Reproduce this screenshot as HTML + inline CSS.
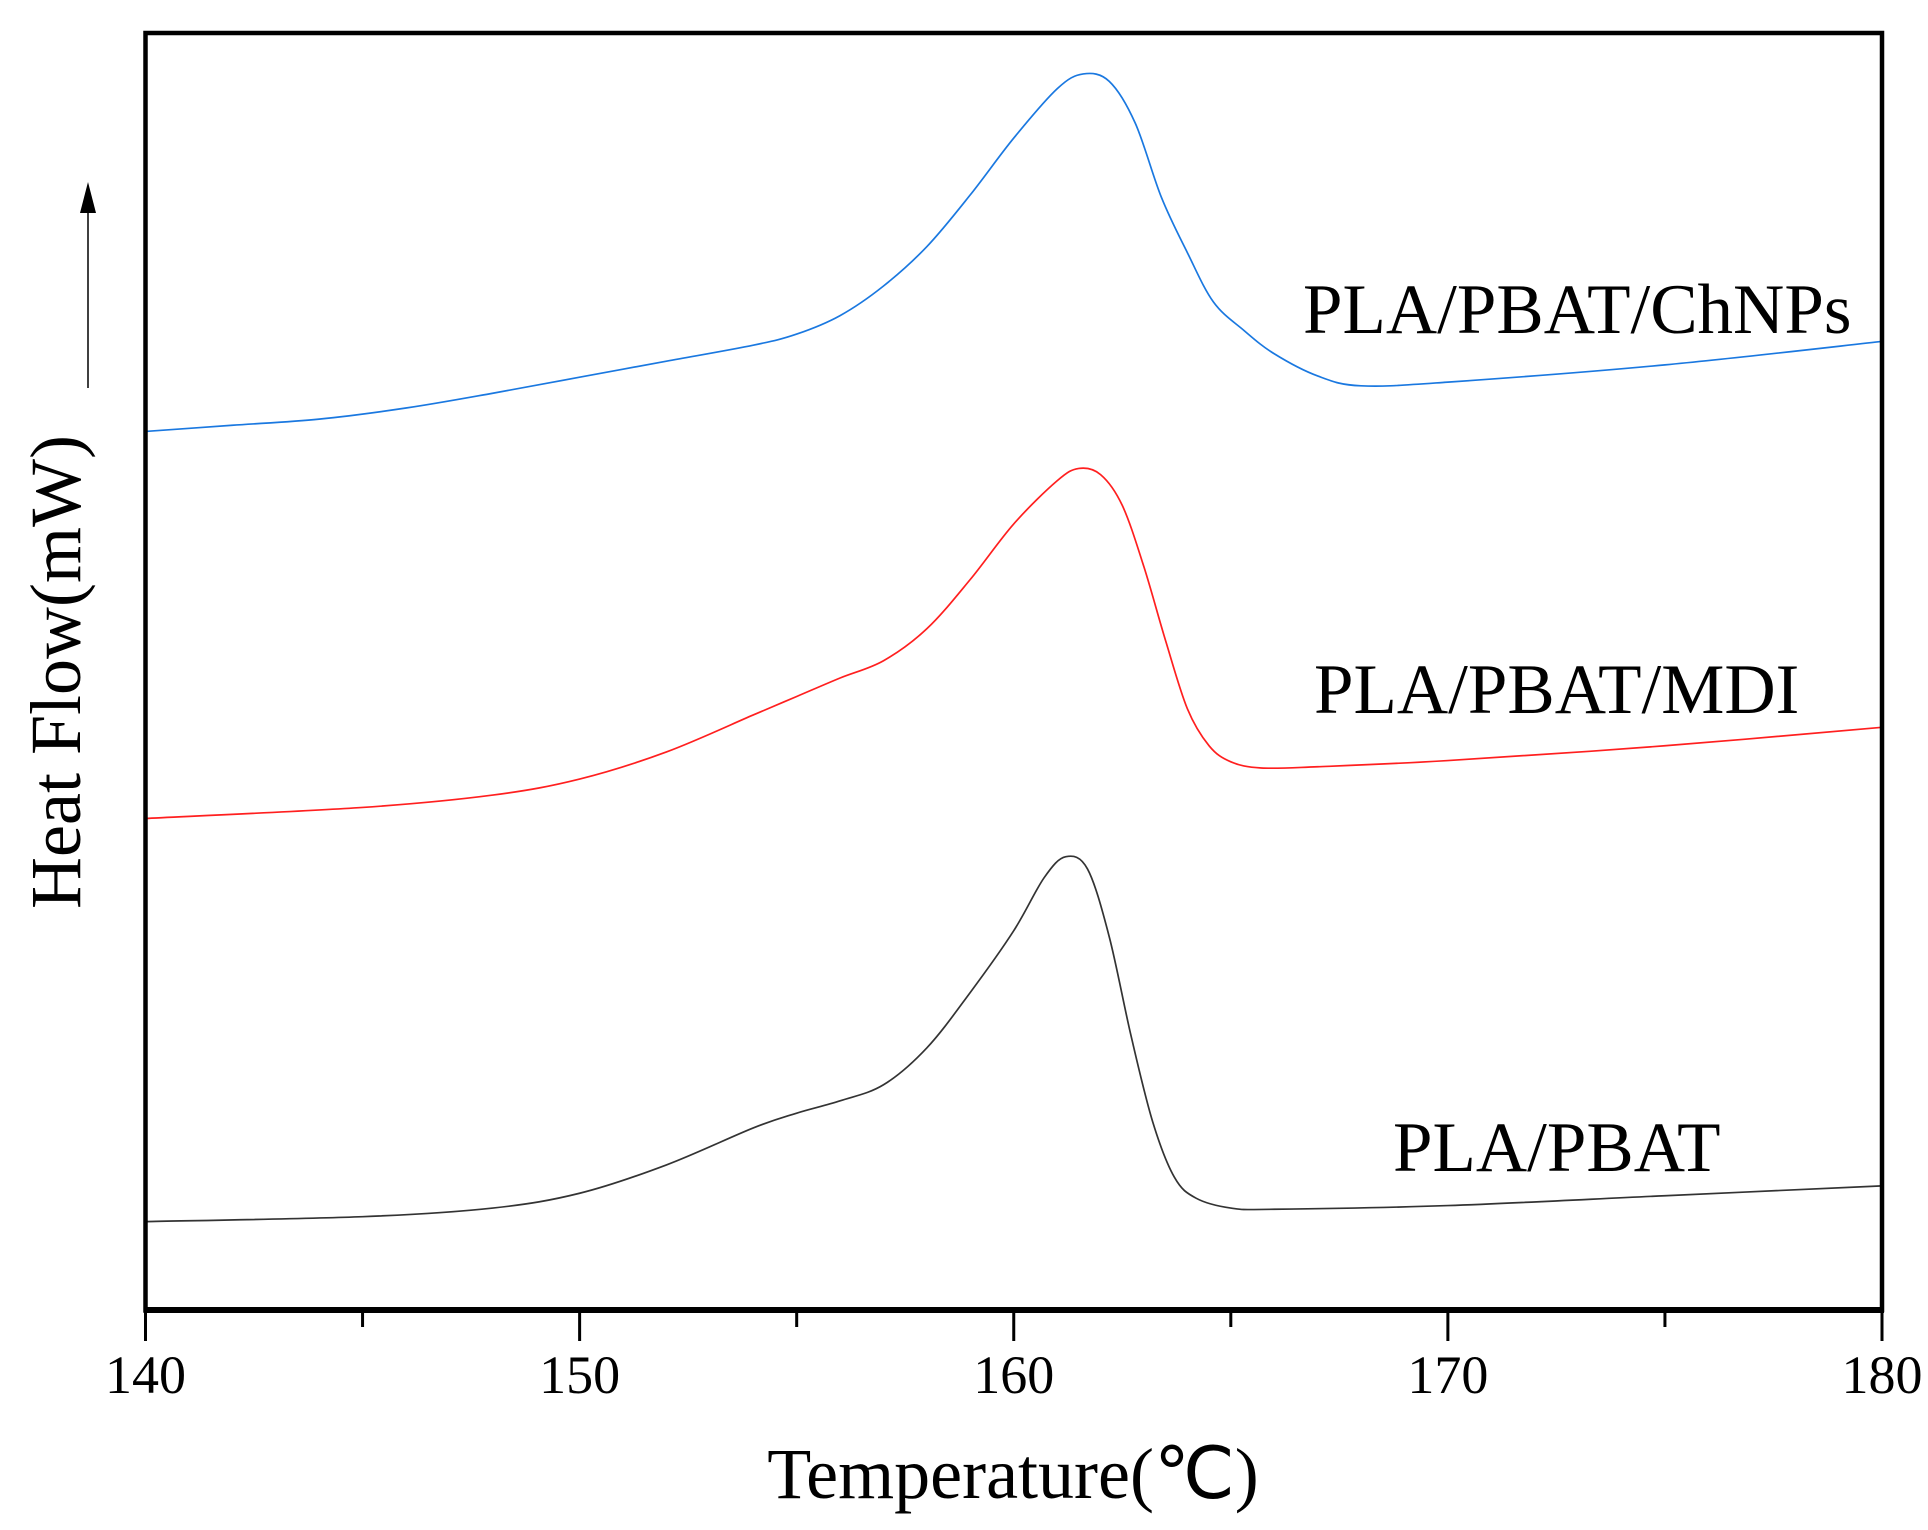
<!DOCTYPE html>
<html><head><meta charset="utf-8"><style>
html,body{margin:0;padding:0;background:#fff;}
svg{display:block;font-family:"Liberation Serif",serif;}
</style></head><body>
<svg id="chart" width="1928" height="1530" viewBox="0 0 1928 1530">
<g id="plot"></g>
</svg>
<script>
const xTicks=[140,150,160,170,180];
const xMinor=[145,155,165,175];
const seriesNames=["PLA/PBAT/ChNPs","PLA/PBAT/MDI","PLA/PBAT"];
const blueT=[140,142,144,146,148,150,152,154,155,156,157,158,159,160,161,161.6,162.2,162.8,163.4,164,164.6,165.3,166,167,168,170,175,180];
const blueV=[350,345,340,331,319,306,293,280,271,256,232,200,158,112,72,60,66,100,160,205,245,268,287,305,313,310,296,277];
const redT=[140,145,148,150,152,154,155,156,157,158,159,160,161,161.5,162,162.5,163,163.5,164,164.5,165,165.7,167,170,175,180];
const redV=[664,655,645,632,610,580,565,550,536,510,470,425,390,380,385,410,460,520,575,605,618,623,622,617,605,590];
const blackT=[140,145,148,150,152,154,155,156,157,158,159,160,160.7,161.2,161.7,162.2,162.7,163.2,163.7,164.2,165,166,170,175,180];
const blackV=[991,987,980,968,945,915,903,893,880,850,805,755,712,695,705,760,840,910,955,972,980,981,978,970,962];
const L=145.5,R=1882,T=33,B=1310,S=1.2327;
function xs(t){return L+(t-140)/40*(R-L);}
function ys(v){return v*S;}
const NS="http://www.w3.org/2000/svg";
const g=document.getElementById('plot');
function el(n,a){const e=document.createElementNS(NS,n);for(const k in a)e.setAttribute(k,a[k]);g.appendChild(e);return e;}
function path(ts,vs){const p=ts.map((t,i)=>[xs(t),ys(vs[i])]);let d="M"+p[0][0]+","+p[0][1];
for(let i=0;i<p.length-1;i++){const p0=p[i-1]||p[i],p1=p[i],p2=p[i+1],p3=p[i+2]||p2;
d+=" C"+(p1[0]+(p2[0]-p0[0])/6)+","+(p1[1]+(p2[1]-p0[1])/6)+" "+(p2[0]-(p3[0]-p1[0])/6)+","+(p2[1]-(p3[1]-p1[1])/6)+" "+p2[0]+","+p2[1];}return d;}
const cols=["#1a78e0","#ff1f1f","#333333"];
const data=[[blueT,blueV],[redT,redV],[blackT,blackV]];
data.forEach((s,i)=>{const e=el('path',{d:path(s[0],s[1]),fill:'none',stroke:cols[i],'stroke-width':1.7});

});
const fr=el('rect',{x:L,y:T,width:R-L,height:B-T,fill:'none',stroke:'#000','stroke-width':4.5});


const xa=el('line',{x1:L-2,x2:R+2,y1:B,y2:B,stroke:'#000','stroke-width':6});


xTicks.forEach(t=>{const l=el('line',{x1:xs(t),x2:xs(t),y1:B,y2:B+31,stroke:'#000','stroke-width':3});


const tx=el('text',{x:xs(t),y:1393,'font-size':54,'text-anchor':'middle'});tx.textContent=t;

});
xMinor.forEach(t=>{const l=el('line',{x1:xs(t),x2:xs(t),y1:B,y2:B+17,stroke:'#000','stroke-width':3});

});
const xt=el('text',{x:1013,y:1498,'font-size':72,'text-anchor':'middle'});xt.textContent="Temperature(℃)";


const yt=el('text',{x:0,y:0,'font-size':72,'text-anchor':'middle',transform:'translate(80,672) rotate(-90)'});yt.textContent="Heat Flow(mW)";


const ar=el('line',{x1:88,x2:88,y1:388,y2:205,stroke:'#000','stroke-width':1.5});


const ah=el('polygon',{points:'88,182 80,213 96,213',fill:'#000'});


const lp=[[1303,333],[1314,713],[1393,1171]];
seriesNames.forEach((n,i)=>{const t=el('text',{x:lp[i][0],y:lp[i][1],'font-size':71});t.textContent=n;

});
</script>
</body></html>
